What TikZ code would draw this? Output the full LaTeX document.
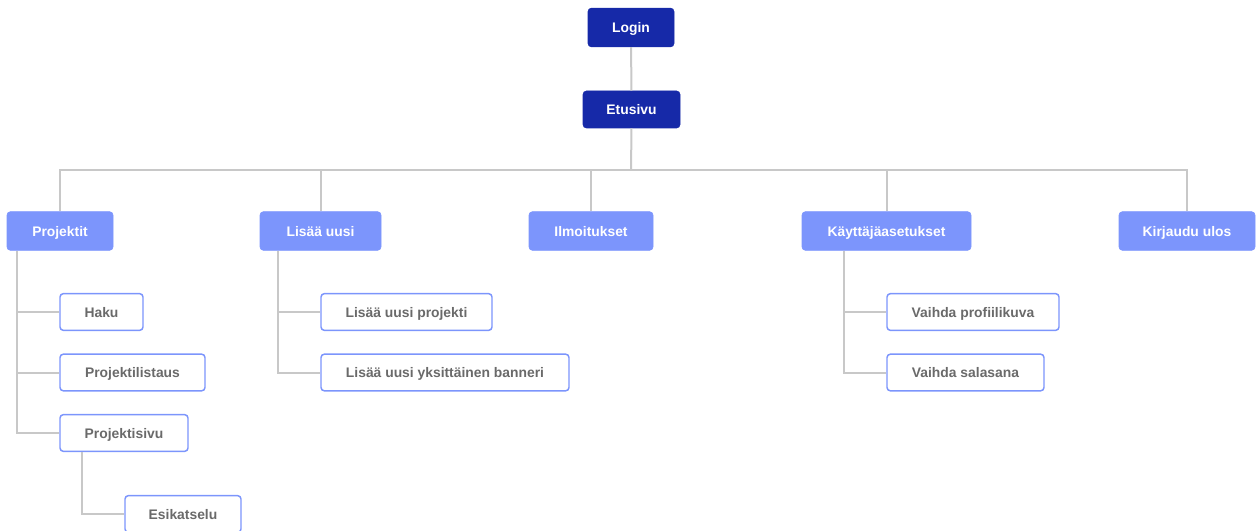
\documentclass[tikz,border=0pt]{standalone}
\usepackage{fontspec}
\setmainfont{Liberation Sans}
\usepackage{tikz}
\usetikzlibrary{positioning}
\definecolor{darkblue}{HTML}{1629A8}
\definecolor{lightblue}{HTML}{7C95FC}
\definecolor{textgray}{HTML}{6A6A6A}
\definecolor{linegray}{HTML}{C8C8C8}
\tikzset{topbox/.style={fill=darkblue,draw=darkblue,rounded corners=2.5pt,text=white,
    minimum height=29pt,minimum width=#1*0.75pt,inner sep=0pt,text height=7.6pt,text depth=0pt}}
\tikzset{menubox/.style={fill=lightblue,draw=lightblue,rounded corners=2.5pt,text=white,
    minimum height=29pt,minimum width=#1*0.75pt,inner sep=0pt,text height=7.6pt,text depth=0pt}}
\tikzset{subbox/.style={fill=white,draw=lightblue,line width=1.1pt,rounded corners=2.5pt,text=textgray,
    minimum height=27.5pt,minimum width=#1*0.75pt,inner sep=0pt,text height=7.6pt,text depth=0pt}}
\tikzset{link/.style={draw=linegray,line width=1.5pt}}
\begin{document}
\begin{tikzpicture}[x=0.75pt,y=-0.75pt,font=\fontsize{10.4}{12}\selectfont\bfseries]
  \useasboundingbox (0,0) rectangle (1256,531);
  % top
  \node[topbox=86](login) at (631,27.5){Login};
  \node[topbox=97,minimum height=27.75pt](etusivu) at (631.5,109.5){Etusivu};
  % menu
  \node[menubox=106](projektit) at (60,231){Projektit};
  \node[menubox=121](lisaa) at (320.5,231){Lisää uusi};
  \node[menubox=124](ilmoitukset) at (591,231){Ilmoitukset};
  \node[menubox=169](asetukset) at (886.5,231){Käyttäjäasetukset};
  \node[menubox=136](kirjaudu) at (1187,231){Kirjaudu ulos};
  % sub pages
  \node[subbox=83](haku) at (101.5,312){Haku};
  \node[subbox=145](listaus) at (132.5,372.5){Projektilistaus};
  \node[subbox=128](projektisivu) at (124,433){Projektisivu};
  \node[subbox=116](esikatselu) at (183,514){Esikatselu};
  \node[subbox=171](uusiprojekti) at (406.5,312){Lisää uusi projekti};
  \node[subbox=248](banneri) at (445,372.5){Lisää uusi yksittäinen banneri};
  \node[subbox=172](profiilikuva) at (973,312){Vaihda profiilikuva};
  \node[subbox=157](salasana) at (965.5,372.5){Vaihda salasana};

  \coordinate (bus) at (631,170);
  \draw[link] (login) -- (etusivu);
  \draw[link] (etusivu.south) -- (bus);
  \draw[link] (projektit.north) |- (bus) -| (kirjaudu.north);
  \draw[link] (lisaa.north) -- (lisaa.north |- bus);
  \draw[link] (ilmoitukset.north) -- (ilmoitukset.north |- bus);
  \draw[link] (asetukset.north) -- (asetukset.north |- bus);

  \path ([xshift=-31.5pt]haku.west) coordinate (t1)
    ([xshift=-31.5pt]esikatselu.west) coordinate (t2)
    ([xshift=-31.5pt]uusiprojekti.west) coordinate (t3)
    ([xshift=-31.5pt]profiilikuva.west) coordinate (t4);
  \draw[link] (projektit.south -| t1) |- (haku.west)
    (t1) |- (listaus.west) (t1) |- (projektisivu.west);
  \draw[link] (projektisivu.south -| t2) |- (esikatselu.west);
  \draw[link] (lisaa.south -| t3) |- (uusiprojekti.west) (t3) |- (banneri.west);
  \draw[link] (asetukset.south -| t4) |- (profiilikuva.west) (t4) |- (salasana.west);
\end{tikzpicture}
\end{document}
